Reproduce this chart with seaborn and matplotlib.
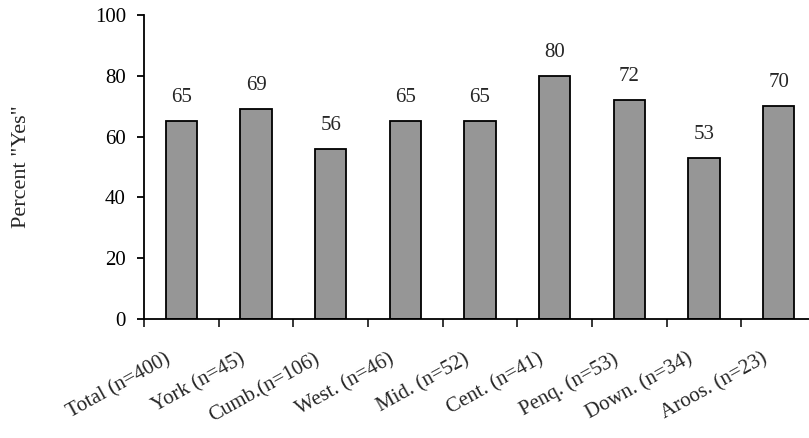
import matplotlib
matplotlib.use("Agg")
import matplotlib.pyplot as plt
import matplotlib.transforms as mtransforms
import seaborn as sns
import pandas as pd
import numpy as np
from matplotlib.ticker import FixedLocator, NullFormatter

# Survey results by region
regions = ["Total (n=400)", "York (n=45)", "Cumb.(n=106)", "West. (n=46)",
           "Mid. (n=52)", "Cent. (n=41)", "Penq. (n=53)", "Down. (n=34)",
           "Aroos. (n=23)"]
pct_yes = [65, 69, 56, 65, 65, 80, 72, 53, 70]
y_ticks = [0, 20, 40, 60, 80, 100]

df = pd.DataFrame({"region": regions, "pct": pct_yes})

sns.set_style("white")
plt.rcParams["font.family"] = ["Liberation Serif", "DejaVu Serif"]

fig = plt.figure(figsize=(8.09, 4.38), dpi=100)
ax = fig.add_axes([0.178, 0.2717, 0.8307, 0.6941])

sns.barplot(data=df, x="region", y="pct", color="#969696", saturation=1,
            edgecolor="black", linewidth=1.3, width=0.42, ax=ax)

ax.bar_label(ax.containers[0], fmt="%d", padding=10, fontsize=15)

ax.set_xlim(-0.5, len(regions) - 0.5)
ax.set_ylim(0, 100)
ax.set_yticks(y_ticks)
ax.tick_params(axis="y", labelsize=15, length=5, width=1.3, direction="out",
               left=True, pad=8, colors="black")
ax.set_ylabel('Percent "Yes"', fontsize=16, labelpad=46)
ax.set_xlabel("")

# category labels under bars, separator ticks between categories
ax.tick_params(axis="x", which="major", length=0, pad=22)
ax.xaxis.set_minor_locator(FixedLocator(np.arange(-0.5, len(regions), 1.0)))
ax.xaxis.set_minor_formatter(NullFormatter())
ax.tick_params(axis="x", which="minor", length=6, width=1.3, direction="out",
               bottom=True)
ax.set_xticks(range(len(regions)))
ax.set_xticklabels(regions, rotation=29, ha="right", rotation_mode="anchor",
                   fontsize=15)
shift = mtransforms.ScaledTranslation(-17 / 100, 0, fig.dpi_scale_trans)
for lbl in ax.get_xticklabels():
    lbl.set_transform(lbl.get_transform() + shift)

for side in ("top", "right"):
    ax.spines[side].set_visible(False)
for side in ("left", "bottom"):
    ax.spines[side].set_color("black")
    ax.spines[side].set_linewidth(1.3)

fig.savefig("out.png", dpi=100)
